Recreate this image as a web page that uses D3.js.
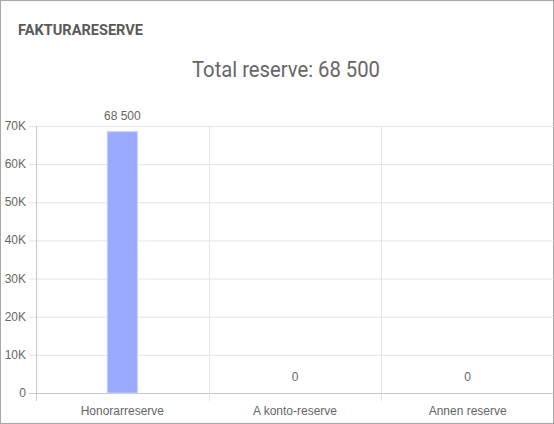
<!DOCTYPE html>
<html>
<head>
<meta charset="utf-8">
<script src="https://cdn.jsdelivr.net/npm/d3@7"></script>
<style>
  html, body { margin: 0; padding: 0; background: #fff; }
  #card {
    box-sizing: border-box;
    width: 554px; height: 424px;
    border: 1px solid #a8a8a8;
    position: relative;
  }
  svg { position: absolute; left: 0; top: 0; }
</style>
</head>
<body>
<div id="card"><svg id="chart" width="554" height="424"></svg></div>
<script>
// chart data
const categories = ["Honorarreserve", "A konto-reserve", "Annen reserve"];
const values = [68500, 0, 0];
const yTicks = [0, 10000, 20000, 30000, 40000, 50000, 60000, 70000];
const yTickLabels = ["0", "10K", "20K", "30K", "40K", "50K", "60K", "70K"];
const heading = "FAKTURARESERVE";
const total = "Total reserve: 68 500";

const svg = d3.select("#chart");
const plotLeft = 35, plotRight = 553, plotTop = 125, plotBottom = 392;

// number like 68 500
const fmt = v => d3.format(",")(v).replace(/,/g, " ");

svg.append("text")
  .attr("x", 17).attr("y", 34)
  .attr("font-family", "Roboto, sans-serif")
  .attr("font-weight", "bold")
  .attr("font-size", 14)
  .attr("fill", "#5a5a5a")
  .attr("textLength", 125)
  .attr("lengthAdjust", "spacingAndGlyphs")
  .text(heading);

svg.append("text")
  .attr("x", 285).attr("y", 76)
  .attr("text-anchor", "middle")
  .attr("font-family", "Roboto, sans-serif")
  .attr("font-size", 21.5)
  .attr("fill", "#666")
  .attr("textLength", 188)
  .attr("lengthAdjust", "spacingAndGlyphs")
  .text(total);

const x = d3.scaleBand()
  .domain(categories)
  .range([plotLeft, plotRight]);

const y = d3.scaleLinear()
  .domain([0, 70000])
  .range([plotBottom, plotTop]);

// horizontal grid
svg.append("g")
  .selectAll("line")
  .data(yTicks)
  .join("line")
  .attr("x1", plotLeft - 7).attr("x2", plotRight)
  .attr("y1", d => y(d) + 0.5).attr("y2", d => y(d) + 0.5)
  .attr("stroke", d => d === 0 ? "#c8c8c8" : "#e4e4e4");

// vertical grid (category boundaries)
const bounds = categories.map(c => x(c)).concat([plotRight]);
svg.append("g")
  .selectAll("line")
  .data(bounds)
  .join("line")
  .attr("x1", d => Math.round(d) + 0.5).attr("x2", d => Math.round(d) + 0.5)
  .attr("y1", plotTop).attr("y2", plotBottom + 8)
  .attr("stroke", (d, i) => i === 0 ? "#c8c8c8" : "#e4e4e4");

// y axis labels
svg.append("g")
  .selectAll("text")
  .data(yTicks)
  .join("text")
  .attr("x", 25)
  .attr("y", d => y(d) + 4)
  .attr("text-anchor", "end")
  .attr("font-family", "Arial, 'Liberation Sans', sans-serif")
  .attr("font-size", 12)
  .attr("fill", "#666")
  .text((d, i) => yTickLabels[i]);

// x axis labels
svg.append("g")
  .selectAll("text")
  .data(categories)
  .join("text")
  .attr("x", d => x(d) + x.bandwidth() / 2)
  .attr("y", 414)
  .attr("text-anchor", "middle")
  .attr("font-family", "Arial, 'Liberation Sans', sans-serif")
  .attr("font-size", 12)
  .attr("fill", "#666")
  .text(d => d);

// bars
const barW = 30;
svg.append("g")
  .selectAll("rect")
  .data(values)
  .join("rect")
  .attr("x", (d, i) => x(categories[i]) + x.bandwidth() / 2 - barW / 2)
  .attr("y", d => y(d))
  .attr("width", barW)
  .attr("height", d => plotBottom - y(d))
  .attr("fill", "#9aabff")
  .attr("stroke", "#c4cdfd")
  .attr("stroke-width", 1);

// value labels
svg.append("g")
  .selectAll("text")
  .data(values)
  .join("text")
  .attr("x", (d, i) => x(categories[i]) + x.bandwidth() / 2)
  .attr("y", d => y(d) - 12)
  .attr("text-anchor", "middle")
  .attr("font-family", "Arial, 'Liberation Sans', sans-serif")
  .attr("font-size", 12)
  .attr("fill", "#666")
  .text(d => fmt(d));
</script>
</body>
</html>
